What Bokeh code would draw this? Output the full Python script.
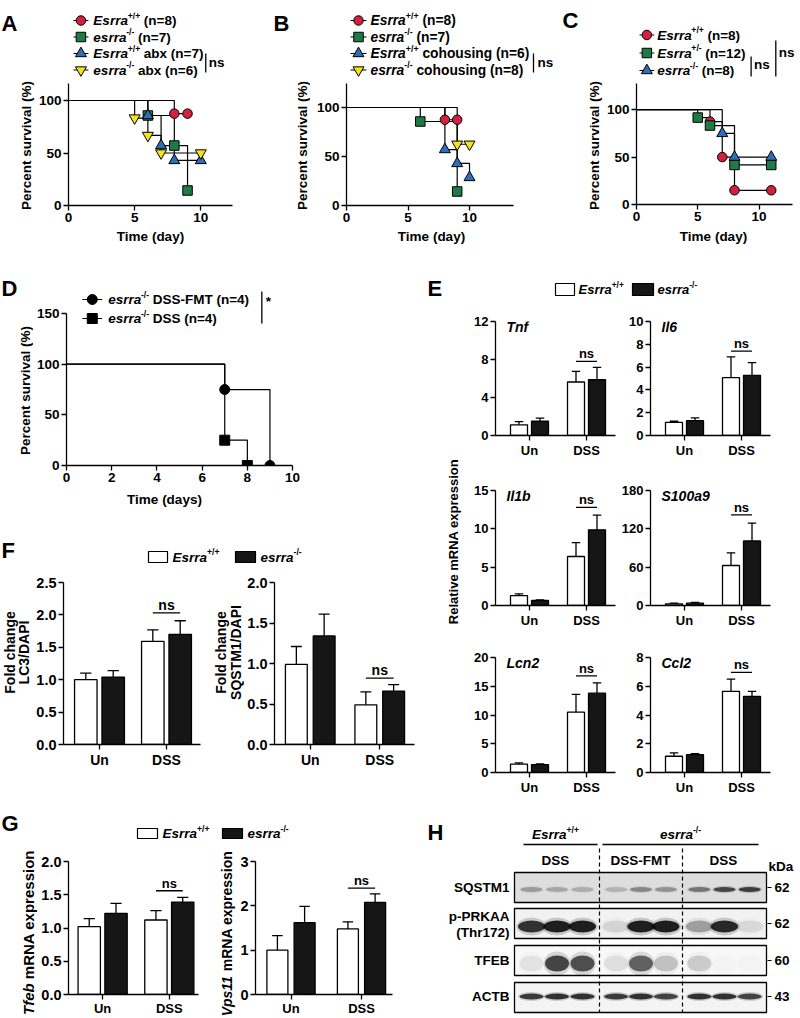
import math
from bokeh.plotting import figure
from bokeh.models import Range1d, Label, FixedTicker, PrintfTickFormatter
from bokeh.layouts import row, column
from bokeh.embed import file_html
from bokeh.resources import INLINE

FONT = "Liberation Sans"
RED, GREEN, BLUE, YELLOW = "#d0213d", "#1e7b47", "#2f6db5", "#f3e31f"

# ---------------- data ----------------
# Kaplan-Meier: event day and % surviving after that event
A_WT_T, A_WT_S = [8, 9], [87.5, 87.5]
A_KO_T, A_KO_S = [6, 8, 9], [85.7, 57.1, 14.3]
A_WTABX_T, A_WTABX_S = [6, 7, 8, 10], [85.7, 57.1, 42.9, 42.9]
A_KOABX_T, A_KOABX_S = [5, 6, 7, 10], [83.3, 66.7, 50.0, 50.0]

B_WT_T, B_WT_S = [8, 9], [87.5, 87.5]
B_KO_T, B_KO_S = [6, 9], [85.7, 14.3]
B_WTCO_T, B_WTCO_S = [8, 9, 10], [57.1, 42.9, 28.6]
B_KOCO_T, B_KOCO_S = [9, 10], [62.5, 62.5]

C_WT_T, C_WT_S = [6, 7, 8, 11], [87.5, 50.0, 15.0, 15.0]
C_HET_T, C_HET_S = [5, 6, 8, 11], [91.7, 83.3, 41.7, 41.7]
C_KO_T, C_KO_S = [7, 8, 11], [75.0, 50.0, 50.0]

D_FMT_T, D_FMT_S = [7, 9], [75.0, 0.0]
D_DSS_T, D_DSS_S = [7, 8], [25.0, 0.0]

SURV_TICKS = [0, 50, 100]
DAY_TICKS = [0, 5, 10]
D_Y_TICKS = [0, 50, 100, 150]
D_X_TICKS = [0, 2, 4, 6, 8, 10]

GROUPS = ["Un", "DSS"]

E_GENES = ["Tnf", "Il6", "Il1b", "S100a9", "Lcn2", "Ccl2"]
E_WT_MEAN = [[1.12, 5.63], [1.16, 5.07], [1.30, 6.39], [2.6, 62.6], [1.44, 10.5], [1.13, 5.65]]
E_WT_SEM = [[0.35, 1.12], [0.09, 1.83], [0.22, 1.81], [1.0, 19.8], [0.23, 3.1], [0.23, 0.85]]
E_KO_MEAN = [[1.50, 5.87], [1.30, 5.28], [0.65, 9.87], [3.6, 101.0], [1.38, 13.8], [1.24, 5.30]]
E_KO_SEM = [[0.32, 1.30], [0.24, 1.12], [0.09, 1.93], [1.1, 28.0], [0.12, 1.8], [0.07, 0.35]]
E_YMAX = [12, 10, 15, 180, 20, 8]
E_TICKS = [[0, 4, 8, 12], [0, 2, 4, 6, 8, 10], [0, 5, 10, 15], [0, 60, 120, 180],
           [0, 5, 10, 15, 20], [0, 2, 4, 6, 8]]
E_NS = [7.8, 7.4, 12.8, 142.0, 16.8, 6.96]

F_LC3_WT, F_LC3_WT_SEM = [1.00, 1.59], [0.10, 0.18]
F_LC3_KO, F_LC3_KO_SEM = [1.04, 1.70], [0.10, 0.21]
F_LC3_NS = 2.03
F_SQ_WT, F_SQ_WT_SEM = [0.99, 0.49], [0.22, 0.16]
F_SQ_KO, F_SQ_KO_SEM = [1.34, 0.66], [0.27, 0.08]
F_SQ_NS = 0.82

G_TFEB_WT, G_TFEB_WT_SEM = [1.02, 1.12], [0.12, 0.14]
G_TFEB_KO, G_TFEB_KO_SEM = [1.22, 1.39], [0.15, 0.07]
G_TFEB_NS = 1.56
G_VPS_WT, G_VPS_WT_SEM = [1.00, 1.48], [0.33, 0.16]
G_VPS_KO, G_VPS_KO_SEM = [1.62, 2.08], [0.37, 0.19]
G_VPS_NS = 2.4

H_ROWS = ["SQSTM1", "p-PRKAA", "TFEB", "ACTB"]
H_KDA = ["62", "62", "60", "43"]
H_SQSTM1 = [0.30, 0.25, 0.22, 0.20, 0.40, 0.35, 0.50, 0.75, 0.80]
H_PPRKAA = [0.90, 1.00, 1.00, 0.12, 1.00, 1.00, 0.35, 0.95, 0.10]
H_TFEB = [0.08, 0.80, 0.75, 0.10, 0.65, 0.22, 0.18, 0.02, 0.02]
H_ACTB = [0.85, 0.90, 0.90, 0.85, 0.90, 0.80, 0.90, 0.90, 0.80]

# ---------------- helpers ----------------
CW = {' ': 278, '(': 333, ')': 333, '*': 389, '+': 584, '-': 333, '/': 278, '=': 584, '%': 889,
      '.': 278, 'A': 722, 'B': 722, 'C': 722, 'D': 722, 'E': 667, 'F': 611, 'G': 778, 'H': 722,
      'I': 278, 'K': 722, 'L': 611, 'M': 833, 'N': 722, 'P': 667, 'Q': 778, 'R': 722, 'S': 667,
      'T': 611, 'V': 667, 'a': 556, 'b': 611, 'c': 556, 'd': 611, 'e': 556, 'f': 333, 'g': 611,
      'h': 611, 'i': 278, 'k': 556, 'l': 278, 'm': 889, 'n': 611, 'o': 611, 'p': 611, 'r': 389,
      's': 556, 't': 333, 'u': 611, 'v': 556, 'x': 556, 'y': 556}


def tw(s, size):
    return sum(CW.get(c, 556) for c in s) * size / 1000.0


def W(p):
    return row(p)


def make_fig(c, f, xr, yr, axes=True):
    cx0, cx1, cy0, cy1 = c
    L, R, T, B = f
    kw = {}
    if not axes:
        kw = dict(x_axis_type=None, y_axis_type=None)
    p = figure(width=cx1 - cx0, height=cy1 - cy0, x_range=xr, y_range=yr,
               output_backend="svg", toolbar_location=None,
               min_border_left=L - cx0, min_border_right=cx1 - R,
               min_border_top=T - cy0, min_border_bottom=cy1 - B, **kw)
    p.extra_x_ranges = {"px": Range1d(L, R)}
    p.extra_y_ranges = {"px": Range1d(B, T)}
    p.outline_line_color = None
    p.background_fill_color = "white"
    p.border_fill_color = "white"
    p.grid.visible = False
    return p


def text_fig(x0, x1, y0, y1):
    return make_fig((x0, x1, y0, y1), (x0, x1, y0, y1), Range1d(x0, x1), Range1d(y1, y0), axes=False)


def style_axes(p, fs):
    for ax in p.axis:
        ax.axis_line_color = "black"
        ax.axis_line_width = 1.3
        ax.major_tick_line_color = "black"
        ax.major_tick_line_width = 1.3
        ax.major_tick_out = 5
        ax.major_tick_in = 0
        ax.minor_tick_line_color = None
        ax.major_label_text_font = FONT
        ax.major_label_text_font_size = f"{fs}px"
        ax.major_label_text_font_style = "bold"
        ax.major_label_text_color = "black"
        ax.major_label_standoff = 2


def lab(p, x, y, text, size, style="bold", align="left", baseline="middle", angle=0.0):
    p.add_layout(Label(x=x, y=y, x_range_name="px", y_range_name="px", text=text,
                       text_font=FONT, text_font_size=f"{size:.2f}px", text_font_style=style,
                       text_align=align, text_baseline=baseline, angle=angle,
                       text_color="black"))


def rich(p, x, y, pieces, size, align="left", vertical=False):
    sup = size * 0.64
    ws = [tw(t, sup if k == "s" else size) for t, k in pieces]
    total = sum(ws)
    pos = y if vertical else x
    if align == "center":
        pos = pos + total / 2 if vertical else pos - total / 2
    for (t, k), w in zip(pieces, ws):
        fs = sup if k == "s" else size
        st = "bold italic" if k == "i" else "bold"
        rise = size * 0.34 if k == "s" else 0
        stripped = t.lstrip(" ")
        lead = tw(t[:len(t) - len(stripped)], fs)
        if vertical:
            lab(p, x - rise, pos - lead, stripped, fs, st, angle=math.pi / 2)
            pos -= w
        else:
            lab(p, pos + lead, y - rise, stripped, fs, st)
            pos += w


def letter(p, x, y, t):
    lab(p, x, y, t, 22, "bold", baseline="alphabetic")


def pseg(p, x0, y0, x1, y1, dash="solid", w=1.3):
    p.segment(x0=[x0], y0=[y0], x1=[x1], y1=[y1], x_range_name="px", y_range_name="px",
              line_color="black", line_width=w, line_dash=dash)


def vlabel(p, x, y, text, size=13.5):
    lab(p, x, y, text, size, align="center", angle=math.pi / 2)


# ---------------- Kaplan-Meier panels ----------------
def km_fig(c, f, xppu, yppu, xb, yb, xt, yt, fs):
    L, R, T, B = f
    p = make_fig(c, f, Range1d(0, (R - L) / xppu), Range1d(0, (B - T) / yppu))
    style_axes(p, fs)
    p.xaxis.bounds = (0, xb)
    p.yaxis.bounds = (0, yb)
    p.xaxis.ticker = FixedTicker(ticks=xt)
    p.yaxis.ticker = FixedTicker(ticks=yt)
    return p


def km_draw(p, series, size=9.5):
    for T_, S_, mk, col in series:
        p.step([0] + T_, [100] + S_, mode="after", line_color="black", line_width=1.2)
    for T_, S_, mk, col in series:
        sz = size + 1.5 if "triangle" in mk else size
        p.scatter(T_, S_, marker=mk, size=sz, fill_color=col, line_color="black", line_width=1)


def km_legend(p, x0, x1, ys, series, texts, tx, fs, size=9.5):
    for y, (T_, S_, mk, col), pieces in zip(ys, series, texts):
        pseg(p, x0, y, x1, y, w=1.2)
        sz = size + 1.5 if "triangle" in mk else size
        p.scatter([(x0 + x1) / 2], [y], marker=mk, size=sz, fill_color=col, line_color="black",
                  line_width=1, x_range_name="px", y_range_name="px")
        rich(p, tx, y, pieces, fs)


WT = [("Esrra", "i"), ("+/+", "s")]
KO = [("esrra", "i"), ("-/-", "s")]
KM_FS = 13.5

# A
LA = text_fig(0, 35, 0, 245)
letter(LA, 1, 23, "A")
vlabel(LA, 26, 145, "Percent survival (%)")
pA = km_fig((35, 265, 0, 228), (67, 250, 12, 205), 13.3, 1.05, 12.4, 116, DAY_TICKS, SURV_TICKS, KM_FS)
serA = [(A_WT_T, A_WT_S, "circle", RED), (A_KO_T, A_KO_S, "square", GREEN),
        (A_WTABX_T, A_WTABX_S, "triangle", BLUE), (A_KOABX_T, A_KOABX_S, "inverted_triangle", YELLOW)]
km_draw(pA, serA)
km_legend(pA, 72, 87, [20, 36.5, 53, 69.5], serA,
          [WT + [(" (n=8)", "n")], KO + [(" (n=7)", "n")],
           WT + [(" abx (n=7)", "n")], KO + [(" abx (n=6)", "n")]], 92, 13.5)
pseg(pA, 205, 53, 205, 72)
lab(pA, 208, 62, "ns", 13.5)
XA = text_fig(35, 265, 228, 245)
lab(XA, 150, 236, "Time (day)", 13.5, align="center")

# B
LB = text_fig(265, 310, 0, 245)
letter(LB, 273, 23, "B")
vlabel(LB, 302, 145, "Percent survival (%)")
pB = km_fig((310, 560, 0, 228), (346, 555, 12, 205), 12.3, 0.98, 13.6, 124, DAY_TICKS, SURV_TICKS, KM_FS)
serB = [(B_WT_T, B_WT_S, "circle", RED), (B_KO_T, B_KO_S, "square", GREEN),
        (B_WTCO_T, B_WTCO_S, "triangle", BLUE), (B_KOCO_T, B_KOCO_S, "inverted_triangle", YELLOW)]
km_draw(pB, serB)
km_legend(pB, 350, 366, [20, 36.5, 53, 69.5], serB,
          [WT + [(" (n=8)", "n")], KO + [(" (n=7)", "n")],
           WT + [(" cohousing (n=6)", "n")], KO + [(" cohousing (n=8)", "n")]], 370, 13.8)
pseg(pB, 533, 53, 533, 72)
lab(pB, 537, 62, "ns", 13.5)
XB = text_fig(310, 560, 228, 245)
lab(XB, 431, 236, "Time (day)", 13.5, align="center")

# C
LC = text_fig(560, 603, 0, 245)
letter(LC, 562, 20, "C")
vlabel(LC, 594, 145, "Percent survival (%)")
pC = km_fig((603, 800, 0, 228), (634, 800, 12, 204), 12.4, 0.948, 12.74, 127.6, DAY_TICKS, SURV_TICKS, KM_FS)
serC = [(C_WT_T, C_WT_S, "circle", RED), (C_HET_T, C_HET_S, "square", GREEN),
        (C_KO_T, C_KO_S, "triangle", BLUE)]
km_draw(pC, serC)
km_legend(pC, 637, 652, [34.5, 52.5, 70], serC,
          [WT + [(" (n=8)", "n")], [("Esrra", "i"), ("+/-", "s"), (" (n=12)", "n")],
           KO + [(" (n=8)", "n")]], 655, 13.5)
pseg(pC, 750, 56, 750, 76)
lab(pC, 753, 64, "ns", 13.5)
pseg(pC, 775, 40, 775, 76)
lab(pC, 778, 52, "ns", 13.5)
XC = text_fig(603, 800, 228, 245)
lab(XC, 713, 236, "Time (day)", 13.5, align="center")

# D
LD = text_fig(0, 33, 245, 520)
letter(LD, 1, 288, "D")
vlabel(LD, 25, 390, "Percent survival (%)")
pD = km_fig((33, 420, 245, 488), (64, 300, 285, 465), 22.8, 1.013, 10, 150, D_X_TICKS, D_Y_TICKS, 13.5)
serD = [(D_FMT_T, D_FMT_S, "circle", "black"), (D_DSS_T, D_DSS_S, "square", "black")]
km_draw(pD, serD, size=10)
km_legend(pD, 80, 100, [299, 318], serD,
          [KO + [(" DSS-FMT (n=4)", "n")], KO + [(" DSS (n=4)", "n")]], 106, 13.5, size=10)
pseg(pD, 261, 291, 261, 323)
lab(pD, 265, 301, "*", 13.5)
XD = text_fig(33, 420, 488, 520)
lab(XD, 164, 499, "Time (days)", 13.5, align="center")


# ---------------- bar panels ----------------
def bar_fig(c, f, ucen, dcen, bw, off, ymax, yticks, wt_m, wt_s, ko_m, ko_s, ns_y,
            fs, xfs, fmt=None, xstand=2):
    L, R, T, B = f
    sp = float(dcen - ucen)
    p = make_fig(c, f, Range1d((L - ucen) / sp, (R - ucen) / sp), Range1d(0, ymax))
    style_axes(p, fs)
    p.xaxis.major_label_text_font_size = f"{xfs}px"
    p.xaxis.major_label_standoff = xstand
    p.xaxis.ticker = FixedTicker(ticks=[0, 1])
    p.xaxis.major_label_overrides = {0: GROUPS[0], 1: GROUPS[1]}
    p.yaxis.ticker = FixedTicker(ticks=yticks)
    if fmt:
        p.yaxis.formatter = PrintfTickFormatter(format=fmt)
    b = bw / sp
    o = off / sp
    xw = [0 - o, 1 - o]
    xk = [0 + o, 1 + o]
    p.vbar(x=xw, top=wt_m, bottom=0, width=b, fill_color="white", line_color="black", line_width=1.3)
    p.vbar(x=xk, top=ko_m, bottom=0, width=b, fill_color="#161616", line_color="black", line_width=1.3)
    cap = b * 0.5
    for xs, m, s in ((xw, wt_m, wt_s), (xk, ko_m, ko_s)):
        tops = [mi + si for mi, si in zip(m, s)]
        p.segment(x0=xs, y0=m, x1=xs, y1=tops, line_color="black", line_width=1.3)
        p.segment(x0=[x - cap / 2 for x in xs], y0=tops, x1=[x + cap / 2 for x in xs], y1=tops,
                  line_color="black", line_width=1.3)
    p.segment(x0=[1 - o], y0=[ns_y], x1=[1 + o], y1=[ns_y], line_color="black", line_width=1.3)
    p.add_layout(Label(x=1, y=ns_y, text="ns", text_align="center", text_baseline="bottom",
                       text_font=FONT, text_font_size=f"{xfs}px", text_font_style="bold",
                       text_color="black"))
    return p


# E
E_COLS = [(470, 618, 495, 615), (618, 800, 650, 770)]
E_ROWS = [(305, 465, 321, 435), (465, 632, 490, 605), (632, 800, 657, 772)]
pE = []
for i, g in enumerate(E_GENES):
    cx0, cx1, L, R = E_COLS[i % 2]
    cy0, cy1, T, B = E_ROWS[i // 2]
    p = bar_fig((cx0, cx1, cy0, cy1), (L, R, T, B), L + 34, L + 91, 17, 10.5, E_YMAX[i], E_TICKS[i],
                E_WT_MEAN[i], E_WT_SEM[i], E_KO_MEAN[i], E_KO_SEM[i], E_NS[i], 13, 13)
    lab(p, L + 11, T + 5, g, 14, "bold italic")
    pE.append(p)

pEh = text_fig(420, 800, 245, 305)
letter(pEh, 427, 288, "E")
pEh.quad(left=[555, 632], right=[574, 653], top=[283, 283], bottom=[295, 295],
         fill_color=["white", "#161616"], line_color="black", line_width=1.2)
rich(pEh, 578, 289, WT, 13)
rich(pEh, 657, 289, KO, 13)

pEl = text_fig(420, 470, 305, 800)
vlabel(pEl, 453, 541, "Relative mRNA expression", 13)

# F
pFh = text_fig(0, 420, 520, 565)
letter(pFh, 1, 550, "F")
pFh.quad(left=[148, 235], right=[167, 255], top=[551, 551], bottom=[562, 562],
         fill_color=["white", "#161616"], line_color="black", line_width=1.2)
rich(pFh, 172, 556.5, WT, 13.5)
rich(pFh, 260, 556.5, KO, 13.5)

LF1 = text_fig(0, 32, 565, 800)
vlabel(LF1, 9, 652, "Fold change", 14)
vlabel(LF1, 23, 652, "LC3/DAPI", 14)
pF1 = bar_fig((32, 205, 565, 800), (63, 200, 582, 744), 99, 166, 22.5, 13.7, 2.5,
              [0, 0.5, 1.0, 1.5, 2.0, 2.5], F_LC3_WT, F_LC3_WT_SEM, F_LC3_KO, F_LC3_KO_SEM,
              F_LC3_NS, 14.5, 14, fmt="%.1f")
LF2 = text_fig(205, 244, 565, 800)
vlabel(LF2, 220, 652, "Fold change", 14)
vlabel(LF2, 235, 652, "SQSTM1/DAPI", 14)
pF2 = bar_fig((244, 420, 565, 800), (273, 414, 582, 744), 309, 379, 22, 14, 2.0,
              [0, 0.5, 1.0, 1.5, 2.0], F_SQ_WT, F_SQ_WT_SEM, F_SQ_KO, F_SQ_KO_SEM,
              F_SQ_NS, 14.5, 14, fmt="%.1f")

# G
pGh = text_fig(0, 400, 800, 850)
letter(pGh, 1, 823, "G")
pGh.quad(left=[137, 222], right=[157, 242], top=[828, 828], bottom=[838, 838],
         fill_color=["white", "#161616"], line_color="black", line_width=1.2)
rich(pGh, 162, 833, WT, 13.5)
rich(pGh, 247, 833, KO, 13.5)

LG1 = text_fig(0, 38, 850, 1018)
rich(LG1, 28, 932, [("Tfeb", "i"), (" mRNA expression", "n")], 15, align="center", vertical=True)
pG1 = bar_fig((38, 205, 850, 1018), (67, 198, 861, 997), 101.4, 168.6, 22.5, 13.5, 2.0,
              [0, 0.5, 1.0, 1.5, 2.0], G_TFEB_WT, G_TFEB_WT_SEM, G_TFEB_KO, G_TFEB_KO_SEM,
              G_TFEB_NS, 14.5, 13, fmt="%.1f", xstand=1)
LG2 = text_fig(205, 236, 850, 1018)
rich(LG2, 226, 933, [("Vps11", "i"), (" mRNA expression", "n")], 14, align="center", vertical=True)
pG2 = bar_fig((236, 400, 850, 1018), (255, 392, 861, 997), 290.5, 361, 21, 13.6, 3,
              [0, 1, 2, 3], G_VPS_WT, G_VPS_WT_SEM, G_VPS_KO, G_VPS_KO_SEM,
              G_VPS_NS, 14.5, 13, xstand=1)

# H (western blot)
pH = text_fig(400, 800, 800, 1018)
letter(pH, 427, 832, "H")
rich(pH, 555, 834, WT, 13.5, align="center")
rich(pH, 680, 834, KO, 13.5, align="center")
pseg(pH, 523, 844, 597, 844)
pseg(pH, 602, 844, 758, 844)
lab(pH, 555, 860, "DSS", 13.5, align="center")
lab(pH, 640, 860, "DSS-FMT", 13.5, align="center")
lab(pH, 723, 860, "DSS", 13.5, align="center")
lab(pH, 768, 866, "kDa", 13.5)

BOX_L, BOX_R = 514, 766
BOX_T = [872, 908, 945, 982]
BOX_B = [902, 938, 975, 1012]
BAND_Y = [889, 926, 963, 996]
BAND_W = [22, 27, 24, 24]
BAND_H = [5, 12, 16, 6]
SEP = [BOX_L, 599, 682, BOX_R]
lanes = []
for gi in range(3):
    a, b = SEP[gi], SEP[gi + 1]
    lanes += [a + (b - a) * fr for fr in (0.2, 0.5, 0.8)]

pH.quad(left=[BOX_L] * 4, right=[BOX_R] * 4, top=BOX_T, bottom=BOX_B,
        fill_color=["#dedede", "#f2f2f2", "#f8f8f8", "#f4f4f4"], line_color=None)
for r, inten in enumerate([H_SQSTM1, H_PPRKAA, H_TFEB, H_ACTB]):
    pH.ellipse(x=lanes, y=[BAND_Y[r]] * 9, width=BAND_W[r] * 1.12, height=BAND_H[r] * 1.5,
               fill_color="black", fill_alpha=[v * 0.18 for v in inten], line_color=None)
    pH.ellipse(x=lanes, y=[BAND_Y[r]] * 9, width=BAND_W[r], height=BAND_H[r],
               fill_color="black", fill_alpha=[v * 0.85 for v in inten], line_color=None)
pH.quad(left=[BOX_L] * 4, right=[BOX_R] * 4, top=BOX_T, bottom=BOX_B,
        fill_color=None, line_color="black", line_width=1.3)
for xs in (599, 682):
    pseg(pH, xs, 848, xs, 1012, dash="4 3", w=1.2)
lab(pH, 509, 887, H_ROWS[0], 13.5, align="right")
lab(pH, 509, 916, H_ROWS[1], 13.5, align="right")
lab(pH, 509, 932, "(Thr172)", 13.5, align="right")
lab(pH, 509, 960, H_ROWS[2], 13.5, align="right")
lab(pH, 509, 996, H_ROWS[3], 13.5, align="right")
for ky, kt in zip([887, 923, 960, 996], H_KDA):
    pseg(pH, 767, ky, 771, ky, w=1.2)
    lab(pH, 774, ky, kt, 13.5)

# ---------------- layout ----------------
band1 = row(W(LA), column(W(pA), W(XA)), W(LB), column(W(pB), W(XB)),
            W(LC), column(W(pC), W(XC)))
left2 = column(row(W(LD), column(W(pD), W(XD))), W(pFh),
               row(W(LF1), W(pF1), W(LF2), W(pF2)))
right2 = column(W(pEh), row(W(pEl), column(W(pE[0]), W(pE[2]), W(pE[4])),
                            column(W(pE[1]), W(pE[3]), W(pE[5]))))
band2 = row(left2, right2)
band3 = row(column(W(pGh), row(W(LG1), W(pG1), W(LG2), W(pG2))), W(pH))
page = column(band1, band2, band3)

open("out.html", "w").write(file_html(page, INLINE, title="figure"))
